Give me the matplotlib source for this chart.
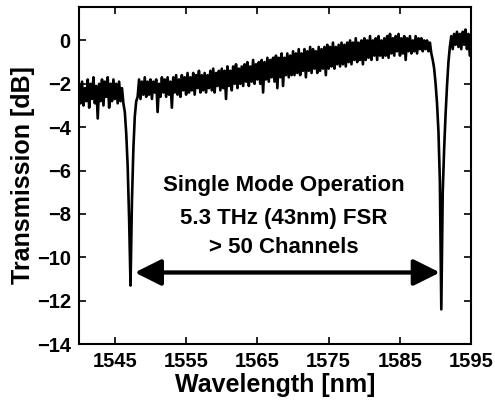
import numpy as np
import matplotlib
matplotlib.use("Agg")
import matplotlib.pyplot as plt

plt.rcParams["font.family"] = ["Liberation Sans", "DejaVu Sans"]
plt.rcParams["font.weight"] = "bold"

# wavelength grid start/step (nm) and transmission (dB)
wl_start = 1540.0
wl_step = 0.2
trans_db = [
    -2.1, -2.9, -1.9, -3.0, -2.2, -2.8, -1.8, -3.1, -2.0, -2.7,
    -1.7, -2.9, -2.1, -3.6, -2.0, -2.8, -1.8, -3.0, -1.9, -2.6,
    -1.7, -3.1, -2.0, -2.8, -1.8, -2.7, -2.0, -2.9, -1.9, -2.8,
    -2.2, -2.9, -3.3, -4.3, -5.8, -8.2, -11.3, -7.4, -5.0, -3.5,
    -2.8, -2.6, -1.8, -2.7, -1.9, -2.5, -1.7, -2.6, -1.9, -2.5,
    -1.8, -2.7, -1.9, -2.4, -1.8, -3.3, -2.0, -2.6, -1.7, -2.4,
    -1.8, -2.6, -1.7, -2.5, -1.9, -3.1, -1.7, -2.4, -1.6, -2.5,
    -1.8, -2.6, -1.6, -2.3, -1.7, -2.5, -1.5, -2.4, -1.7, -2.3,
    -1.5, -2.5, -1.6, -2.2, -1.4, -2.4, -1.6, -2.3, -1.5, -2.4,
    -1.6, -2.2, -1.4, -2.3, -1.3, -2.4, -1.5, -2.1, -1.4, -2.3,
    -1.3, -2.2, -1.4, -2.7, -1.2, -2.1, -1.4, -2.3, -1.2, -2.0,
    -1.1, -2.2, -1.3, -2.0, -1.2, -2.1, -1.1, -1.9, -1.0, -2.1,
    -1.2, -1.9, -0.9, -2.0, -1.1, -1.8, -1.0, -2.0, -0.9, -2.4,
    -1.0, -1.8, -0.8, -1.9, -0.9, -1.7, -0.8, -1.9, -0.7, -2.2,
    -0.8, -1.7, -0.6, -2.1, -0.8, -1.6, -0.6, -1.7, -0.7, -1.6,
    -0.5, -1.6, -0.6, -1.5, -0.4, -1.6, -0.6, -1.4, -0.4, -1.7,
    -0.5, -1.4, -0.3, -1.5, -0.4, -1.3, -0.5, -1.5, -0.3, -1.4,
    -0.4, -1.3, -0.3, -1.6, -0.2, -1.3, -0.3, -1.2, -0.1, -1.3,
    -0.3, -1.1, -0.2, -1.2, -0.1, -1.1, -0.2, -1.2, -0.1, -1.0,
    0.0, -1.1, -0.1, -0.9, 0.1, -1.0, -0.1, -0.9, 0.0, -1.1,
    0.1, -0.9, 0.0, -0.8, 0.2, -0.9, 0.0, -0.7, 0.1, -0.9,
    0.2, -0.7, 0.0, -0.8, 0.1, -0.7, 0.2, -0.8, 0.3, -0.6,
    0.1, -0.7, 0.2, -0.5, 0.3, -0.7, 0.1, -0.6, 0.2, -0.9,
    0.1, -0.5, 0.2, -0.6, 0.0, -0.5, 0.2, -0.6, 0.1, -0.4,
    0.1, -0.5, 0.0, -0.4, 0.0, -0.5, -0.1, -0.6, -0.9, -1.3,
    -2.0, -2.9, -4.2, -6.5, -12.4, -7.0, -5.0, -3.4, -2.1, -1.0,
    -0.3, 0.2, -0.4, 0.3, -0.2, 0.4, -0.3, 0.3, -0.4, 0.4,
    -0.2, 0.5, -0.4, 0.3, -0.7, 0.3,
]

# FSR arrow between the two resonances
arrow_start = 1547.8
arrow_end = 1590.6
arrow_level = -10.7

note_lines = ["Single Mode Operation", "5.3 THz (43nm) FSR", "> 50 Channels"]
note_x = 1568.7
note_y = [-6.71, -8.23, -9.57]

wavelength = wl_start + wl_step * np.arange(len(trans_db))

fig = plt.figure(figsize=(4.95, 4.01), dpi=100)
ax = fig.add_axes([0.160, 0.142, 0.792, 0.841])

ax.plot(wavelength, trans_db, color="black", lw=1.9)

ax.annotate("", xy=(arrow_end, arrow_level), xytext=(arrow_start, arrow_level),
            arrowprops=dict(arrowstyle="<|-|>,head_length=1.6,head_width=0.8",
                            mutation_scale=10, lw=3.1, color="black",
                            shrinkA=0, shrinkB=0))

for txt, yy in zip(note_lines, note_y):
    ax.text(note_x, yy, txt, ha="center", va="center", fontsize=16,
            fontweight="bold")

ax.set_xlim(1540, 1595)
ax.set_ylim(-14, 1.55)
ax.set_xticks([1545, 1555, 1565, 1575, 1585, 1595])
ax.set_yticks(np.arange(-14, 1, 2))
ax.set_yticklabels(["\u2212" + str(abs(v)) if v < 0 else str(v)
                    for v in range(-14, 1, 2)])
ax.tick_params(direction="in", top=True, right=True, length=5, width=1.2,
               labelsize=14.5, pad=6)
for lab in ax.get_xticklabels() + ax.get_yticklabels():
    lab.set_fontweight("bold")
for sp in ax.spines.values():
    sp.set_linewidth(1.5)

ax.set_xlabel("Wavelength [nm]", fontsize=18, fontweight="bold", labelpad=1)
ax.set_ylabel("Transmission [dB]", fontsize=18, fontweight="bold", labelpad=1)

fig.savefig("out.png", dpi=100)
